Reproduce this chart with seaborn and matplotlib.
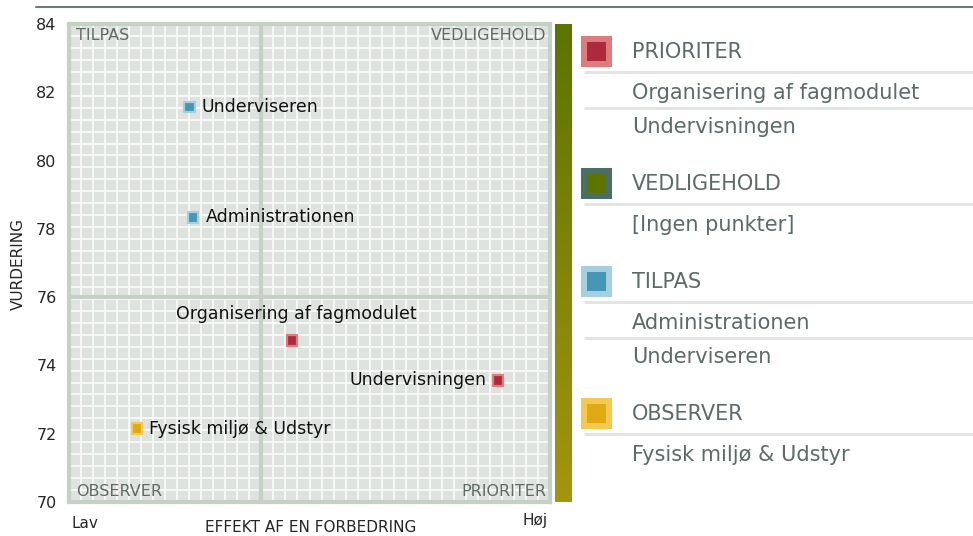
import numpy as np
import pandas as pd
import seaborn as sns
import matplotlib.pyplot as plt
from matplotlib.patches import Rectangle
from matplotlib.colors import LinearSegmentedColormap

# Data
items = ["Underviseren", "Administrationen", "Organisering af fagmodulet",
         "Undervisningen", "Fysisk miljø & Udstyr"]
effekt = [0.250, 0.258, 0.464, 0.892, 0.141]
vurdering = [81.57, 78.34, 74.73, 73.56, 72.15]

quadrants = ["PRIORITER", "VEDLIGEHOLD", "TILPAS", "OBSERVER"]
x_split = 0.40
y_split = 76
y_ticks = [70, 72, 74, 76, 78, 80, 82, 84]

# Styles
inner_col = {"PRIORITER": "#ad2a3e", "VEDLIGEHOLD": "#5e7400",
             "TILPAS": "#4597b5", "OBSERVER": "#e0aa14"}
outer_col = {"PRIORITER": "#dc7c7c", "VEDLIGEHOLD": "#4b6e64",
             "TILPAS": "#a5cfe0", "OBSERVER": "#f3c853"}
label_pos = {"Underviseren": (9, 0, "left"),
             "Administrationen": (9, 0, "left"),
             "Organisering af fagmodulet": (3, 19, "center"),
             "Undervisningen": (-8, 0, "right"),
             "Fysisk miljø & Udstyr": (9, 0, "left")}
txt_grey = "#5c6b63"
frame_col = "#c6d1c6"


def quadrant_of(x, y):
    if x >= x_split:
        return "VEDLIGEHOLD" if y >= y_split else "PRIORITER"
    return "TILPAS" if y >= y_split else "OBSERVER"


df = pd.DataFrame({"item": items, "effekt": effekt, "vurdering": vurdering})
df["kvadrant"] = [quadrant_of(x, y) for x, y in zip(effekt, vurdering)]

sns.set_style("white")
plt.rcParams["font.family"] = ["DejaVu Sans"]

W, H = 973, 536
fig = plt.figure(figsize=(W / 100, H / 100), dpi=100)

# main plot
L, R, T, B = 69, 550, 24, 502
ax = fig.add_axes([L / W, 1 - B / H, (R - L) / W, (B - T) / H])
ax.set_facecolor("#dfe3e0")
ax.set_xlim(0, 1)
ax.set_ylim(70, 84)
ax.set_xticks(np.linspace(0, 1, 41), minor=True)
ax.set_yticks(np.linspace(70, 84, 41), minor=True)
ax.grid(which="minor", color="#fbfbfb", lw=1.25)
ax.set_axisbelow(True)
ax.set_xticks([])
ax.set_yticks(y_ticks)
ax.tick_params(axis="y", length=0, pad=9, labelsize=11.5)
for s in ax.spines.values():
    s.set_color(frame_col)
    s.set_linewidth(3)
ax.axvline(x_split, color=frame_col, lw=3, zorder=1.5)
ax.axhline(y_split, color=frame_col, lw=3, zorder=1.5)

sns.scatterplot(data=df, x="effekt", y="vurdering", hue="kvadrant",
                palette=inner_col, marker="s", s=58, linewidth=1.6,
                legend=False, ax=ax, zorder=3)
ax.collections[-1].set_edgecolors([outer_col[q] for q in df["kvadrant"]])
ax.set_xlabel("")
ax.set_ylabel("")

for _, r in df.iterrows():
    dx, dy, ha = label_pos[r["item"]]
    ax.annotate(r["item"], (r["effekt"], r["vurdering"]), xytext=(dx, dy),
                textcoords="offset points", ha=ha, va="center",
                fontsize=12.5, color="#111111", zorder=4)

qkw = dict(transform=ax.transAxes, fontsize=11.5, color=txt_grey)
ax.text(0.014, 0.975, "TILPAS", ha="left", va="center", **qkw)
ax.text(0.992, 0.975, "VEDLIGEHOLD", ha="right", va="center", **qkw)
ax.text(0.014, 0.023, "OBSERVER", ha="left", va="center", **qkw)
ax.text(0.992, 0.023, "PRIORITER", ha="right", va="center", **qkw)

ax.text(0.006, -0.044, "Lav", transform=ax.transAxes, ha="left", va="center", fontsize=11)
ax.text(0.996, -0.038, "Høj", transform=ax.transAxes, ha="right", va="center", fontsize=11)
ax.text(0.503, -0.054, "EFFEKT AF EN FORBEDRING", transform=ax.transAxes,
        ha="center", va="center", fontsize=11)
fig.text(18 / W, 1 - 264 / H, "VURDERING", rotation=90, ha="center",
         va="center", fontsize=11)

# top rule
fig.add_artist(plt.Line2D([36 / W, 1], [1 - 7 / H, 1 - 7 / H],
                          color="#6e7a74", lw=1.5))

# gradient bar
cax = fig.add_axes([555 / W, 1 - B / H, 17 / W, (B - T) / H])
cmap = LinearSegmentedColormap.from_list("olive", ["#5b7400", "#a39510"])
cax.imshow(np.linspace(0, 1, 256).reshape(-1, 1), aspect="auto", cmap=cmap)
cax.set_axis_off()

# legend panel
lax = fig.add_axes([575 / W, 0, (W - 575) / W, 1])
lax.set_xlim(575, W)
lax.set_ylim(H, 0)
lax.set_axis_off()

y = 52
for q in quadrants:
    members = sorted(df.loc[df["kvadrant"] == q, "item"]) or ["[Ingen punkter]"]
    lax.add_patch(Rectangle((581, y - 16), 31, 31, color=outer_col[q], lw=0))
    lax.add_patch(Rectangle((587, y - 10), 19, 19, color=inner_col[q], lw=0))
    lax.text(632, y, q, ha="left", va="center", fontsize=15, color=txt_grey)
    lax.plot([584, W], [y + 20, y + 20], color="#e4e4e4", lw=2.2,
             solid_capstyle="butt")
    y += 41
    for i, name in enumerate(members):
        lax.text(632, y, name, ha="left", va="center", fontsize=15, color=txt_grey)
        if i < len(members) - 1:
            lax.plot([584, W], [y + 15, y + 15], color="#e4e4e4", lw=2.2,
                     solid_capstyle="butt")
            y += 34
    y += 57

fig.savefig("out.png", dpi=100)
